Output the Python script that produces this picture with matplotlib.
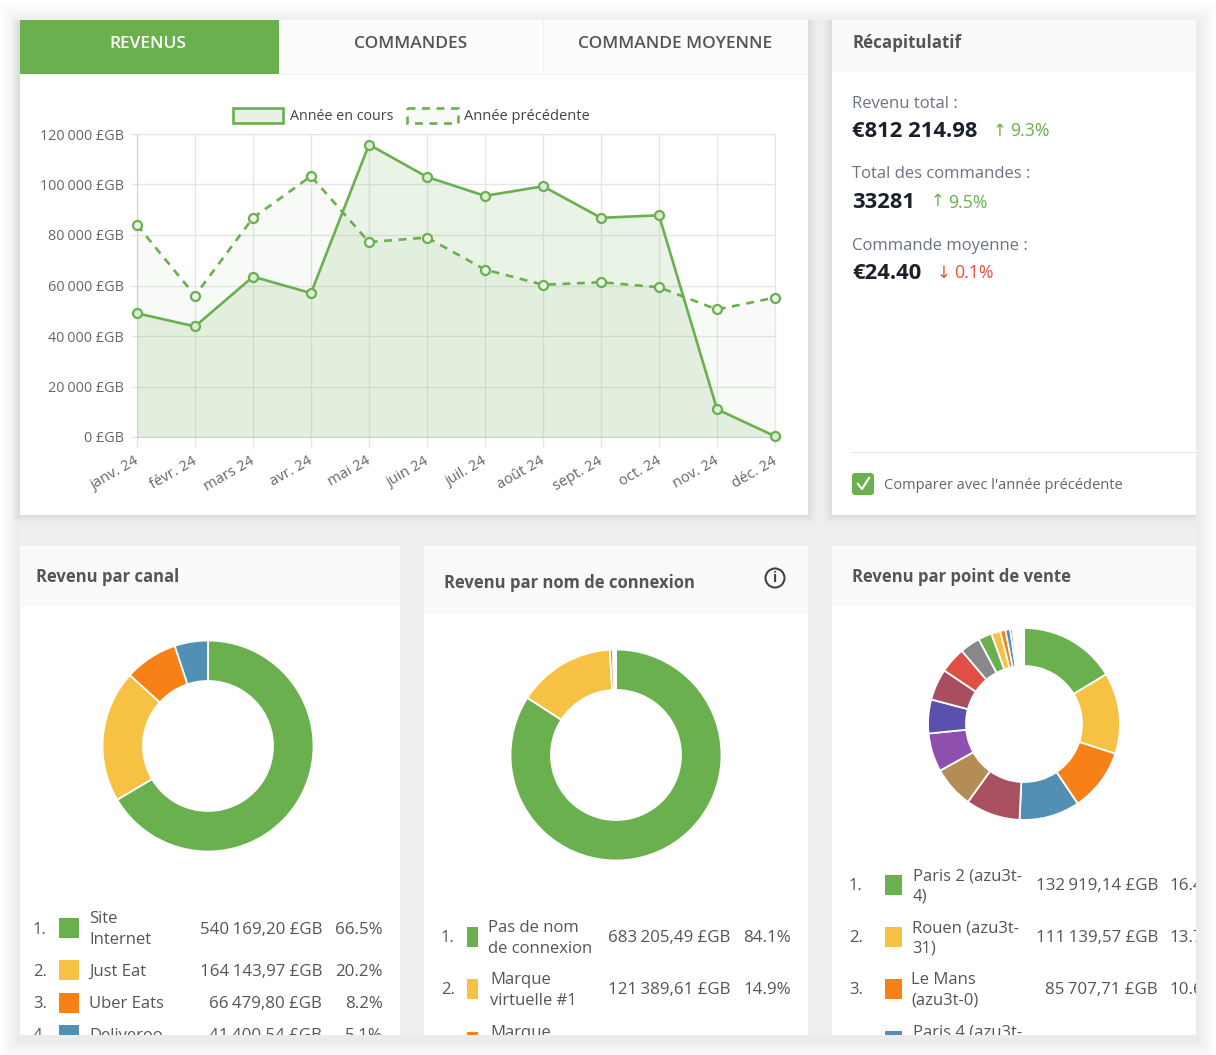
import matplotlib
matplotlib.use('Agg')
import matplotlib.pyplot as plt
from matplotlib.patches import Rectangle, Circle, FancyBboxPatch
from matplotlib.transforms import ScaledTranslation

plt.rcParams['font.family'] = ['Open Sans', 'DejaVu Sans']

W = 1216
H = 1055

months = ['janv. 24', 'févr. 24', 'mars 24', 'avr. 24', 'mai 24', 'juin 24',
          'juil. 24', 'août 24', 'sept. 24', 'oct. 24', 'nov. 24', 'déc. 24']
current_year = [49000, 43800, 63500, 57000, 115800, 103000, 95500, 99300, 86800, 87800, 11000, 300]
previous_year = [84000, 56000, 86800, 103300, 77200, 79000, 66300, 60300, 61300, 59300, 50500, 55200]
y_ticks = [0, 20000, 40000, 60000, 80000, 100000, 120000]

channel_names = ['Site\nInternet', 'Just Eat', 'Uber Eats', 'Deliveroo']
channel_values = [540169.20, 164143.97, 66479.80, 41400.54]
channel_amounts = ['540\u202f169,20 £GB', '164\u202f143,97 £GB', '66\u202f479,80 £GB', '41\u202f400,54 £GB']
channel_pct = ['66.5%', '20.2%', '8.2%', '5.1%']

login_names = ['Pas de nom\nde connexion', 'Marque\nvirtuelle #1', 'Marque\nvirtuelle #2']
login_values = [683205.49, 121389.61, 3900, 1200, 900, 700, 500, 420]
login_amounts = ['683\u202f205,49 £GB', '121\u202f389,61 £GB']
login_pct = ['84.1%', '14.9%']

store_names = ['Paris 2 (azu3t-\n4)', 'Rouen (azu3t-\n31)', 'Le Mans\n(azu3t-0)', 'Paris 4 (azu3t-\n2)']
store_amounts = ['132\u202f919,14 £GB', '111\u202f139,57 £GB', '85\u202f707,71 £GB']
store_pct = ['16.4%', '13.7%', '10.6%']
store_values = [132919.14, 111139.57, 85707.71, 82800, 74700, 56900, 52800, 46300, 43000, 35700,
                27600, 18700, 12200, 7300, 6500, 3300, 2600, 2400, 1800, 800,
                800, 800, 800, 800, 800, 800, 800, 800, 800, 700]

GREEN = '#6ab04f'
palette = [GREEN, '#f7c143', '#f78117', '#518fb4', '#a8505f', '#b38d55', '#8e4fae', '#5a50ad',
           '#a84e5e', '#e04f45', '#888888', GREEN, '#f7c143', '#f78117', '#518fb4', '#a8505f',
           '#888888', '#b8b8b8', '#c8c8c8', '#a84e5e', '#e04f45', '#888888', GREEN, '#f7c143',
           '#f78117', '#518fb4', '#a8505f', '#b38d55', '#8e4fae', '#5a50ad']
login_colors = [GREEN, '#f7c143', '#f78117', '#518fb4', '#a8505f', '#b38d55', '#8e4fae', '#5a50ad']

fig = plt.figure(figsize=(W / 100, H / 100), dpi=100, facecolor='white')

page = fig.add_axes([0, 0, 1, 1])
page.set_xlim(0, W)
page.set_ylim(H, 0)
page.axis('off')


def box(x0, y0, x1, y1, color, zorder=2):
    page.add_patch(Rectangle((x0, y0), x1 - x0, y1 - y0, facecolor=color, edgecolor='none', zorder=zorder))


# soft shadow around the screenshot
for i in range(20, 0, -1):
    page.add_patch(Rectangle((20 - i, 20 - i + 4), 1176 + 2 * i, 1015 + 2 * i, facecolor='black',
                             edgecolor='none', alpha=0.0055, zorder=0))

box(20, 20, 1196, 1035, '#eeeeee', 1)

# shadow under the two top cards
for i in range(8, 0, -1):
    page.add_patch(Rectangle((20 - i, 20), 788 + 2 * i, 495 + i, facecolor='black', edgecolor='none',
                             alpha=0.006, zorder=1.5))
    page.add_patch(Rectangle((832 - i, 20), 364 + i, 495 + i, facecolor='black', edgecolor='none',
                             alpha=0.006, zorder=1.5))

# cards
box(20, 20, 808, 515, 'white')
box(832, 20, 1196, 515, 'white')
box(20, 546, 400, 1035, 'white')
box(424, 546, 808, 1035, 'white')
box(832, 546, 1196, 1035, 'white')

# tabs and headers
box(20, 20, 808, 74, '#fcfcfc')
box(20, 20, 279, 74, GREEN)
box(543, 20, 544, 74, '#f0f0f0')
box(279, 74, 808, 75, '#f2f2f2')
box(832, 20, 1196, 72, '#fafafa')
box(20, 546, 400, 606, '#fafafa')
box(424, 546, 808, 614, '#fafafa')
box(832, 546, 1196, 606, '#fafafa')

page_clip = Rectangle((20, 20), 1176, 1015, transform=page.transData)


def label(x, y, s, size=12, color='#555555', weight='normal', ha='left', linespacing=1.2):
    t = page.text(x, y + 2.5, s, fontsize=size, color=color, fontweight=weight, ha=ha, va='center',
                  linespacing=linespacing, zorder=5, clip_on=True)
    t.set_clip_path(page_clip)
    return t


label(147.5, 41, 'REVENUS', 12.5, 'white', 600, 'center')
label(411, 41, 'COMMANDES', 12.5, '#555555', 600, 'center')
label(675.5, 41, 'COMMANDE MOYENNE', 12.5, '#555555', 600, 'center')

# legend of the line chart
page.add_patch(Rectangle((232.5, 107.5), 50, 15, facecolor='#e8f2e4', edgecolor=GREEN, lw=1.9, zorder=5))
label(290, 114, 'Année en cours', 10.3, '#444444')
page.add_patch(Rectangle((406.5, 107.5), 51, 15, facecolor='#f7faf6', edgecolor=GREEN, lw=1.9,
                         linestyle=(0, (3, 2.5)), zorder=5))
label(464, 114, 'Année précédente', 10.5, '#444444')

# summary
SUMMARY_GREY = '#6b7280'
SUMMARY_DARK = '#1a202c'
RED = '#e8503a'
label(852, 40, 'Récapitulatif', 12.2, '#555555', 'bold')
label(852, 101, 'Revenu total :', 12, SUMMARY_GREY)
label(852, 129, '€812 214.98', 15.8, SUMMARY_DARK, 'bold')
label(993, 129, '↑', 12, GREEN)
label(1010, 129, '9.3%', 12.8, GREEN)
label(852, 172, 'Total des commandes :', 12, SUMMARY_GREY)
label(852, 200, '33281', 15.8, SUMMARY_DARK, 'bold')
label(931, 200, '↑', 12, GREEN)
label(948, 200, '9.5%', 12.8, GREEN)
label(852, 243, 'Commande moyenne :', 12, SUMMARY_GREY)
label(852, 271, '€24.40', 15.8, SUMMARY_DARK, 'bold')
label(937, 271, '↓', 12, RED)
label(954, 271, '0.1%', 12.8, RED)

box(852, 452, 1196, 453, '#e4e4e4')
page.add_patch(FancyBboxPatch((855, 476), 16, 16, boxstyle='round,pad=3,rounding_size=3',
                              facecolor=GREEN, edgecolor='none', zorder=5))
page.plot([858, 862, 869], [484, 489, 478], color='white', lw=1.6, zorder=6)
label(884, 483, "Comparer avec l'année précédente", 10.5, '#666666')

# card titles
label(36, 574, 'Revenu par canal', 12, '#555555', 'bold')
label(444, 580, 'Revenu par nom de connexion', 12, '#555555', 'bold')
label(852, 574, 'Revenu par point de vente', 12, '#555555', 'bold')
page.add_patch(Circle((775, 578), 9.5, facecolor='none', edgecolor='#444444', lw=1.5, zorder=5))
label(775, 576, 'i', 10, '#444444', 'bold', 'center')

# line chart
ax = fig.add_axes([137 / W, 1 - 437 / H, (775 - 137) / W, 303 / H])
ax.patch.set_alpha(0)
x = list(range(len(months)))
ax.fill_between(x, previous_year, 0, color=GREEN, alpha=0.05, lw=0)
ax.fill_between(x, current_year, 0, color=GREEN, alpha=0.14, lw=0)
ax.plot(x, previous_year, color=GREEN, lw=1.9, dashes=(3, 2.5), marker='o', ms=6.5, mfc='#eef5ea',
        mec=GREEN, mew=1.6, clip_on=False, zorder=4)
ax.plot(x, current_year, color=GREEN, lw=1.9, marker='o', ms=6.5, mfc='#dcebd5', mec=GREEN, mew=1.6,
        clip_on=False, zorder=4)
ax.set_xlim(0, 11)
ax.set_ylim(0, 120000)
ax.set_xticks(x)
ax.set_xticklabels(months, rotation=30, ha='right', rotation_mode='anchor', fontsize=10.6, color='#666666')
ax.set_yticks(y_ticks)
ax.set_yticklabels([f'{v:,}'.replace(',', '\u202f') + ' £GB' for v in y_ticks], fontsize=10.4, color='#666666')
ax.grid(True, color='#e6e6e6', lw=1)
ax.set_axisbelow(True)
ax.tick_params(axis='x', length=7, width=1, color='#e6e6e6', pad=5)
ax.tick_params(axis='y', length=4.5, width=1, color='#e6e6e6', pad=5)
shift = ScaledTranslation(-3 / 100, 0, fig.dpi_scale_trans)
for t in ax.get_xticklabels():
    t.set_transform(t.get_transform() + shift)
for side in ['top', 'right']:
    ax.spines[side].set_color('#e6e6e6')
for side in ['left', 'bottom']:
    ax.spines[side].set_color('#d0d0d0')


def donut(cx, cy, radius, hole, values, colors):
    a = fig.add_axes([(cx - radius) / W, 1 - (cy + radius) / H, 2 * radius / W, 2 * radius / H])
    a.pie(values, colors=colors, startangle=90, counterclock=False, radius=1,
          wedgeprops={'width': 1 - hole / radius, 'edgecolor': 'white', 'linewidth': 1.3})
    a.set_xlim(-1, 1)
    a.set_ylim(-1, 1)
    for w in a.patches:
        w.set_clip_on(False)


donut(208, 746, 105.5, 65, channel_values, palette[:len(channel_values)])
donut(616, 755, 105.5, 65, login_values, login_colors)
donut(1024, 724, 96, 58, store_values, palette[:len(store_values)])


def table(names, amounts, pcts, ys, rank_x, sw_x0, sw_x1, name_xs, amount_x, pct_x):
    for i, name in enumerate(names):
        y = ys[i]
        r = Rectangle((sw_x0, y - 10), sw_x1 - sw_x0, 20, facecolor=palette[i], edgecolor='none', zorder=4)
        page.add_patch(r)
        r.set_clip_path(page_clip)
        label(name_xs[i], y - 1, name, 12, '#555555', linespacing=1.35)
        # the last rows are hidden by the bottom edge of the screenshot
        if i < len(amounts):
            label(rank_x, y - 1, f'{i + 1}.', 12, '#555555')
            label(amount_x, y - 1, amounts[i], 12.2, '#555555', ha='right')
            label(pct_x, y - 1, pcts[i], 12.2, '#555555', ha='right')


table(channel_names, channel_amounts, channel_pct, [928, 970, 1003, 1035], 33, 59, 79,
      [89, 89, 89, 89], 322, 383)
table(login_names, login_amounts, login_pct, [937, 989, 1042], 441, 467, 478,
      [488, 490, 490], 730, 791)
table(store_names, store_amounts, store_pct, [885, 937, 989, 1041], 849, 885, 902,
      [913, 912, 911, 913], 1158, 1217)

fig.savefig('out.png', dpi=100)
